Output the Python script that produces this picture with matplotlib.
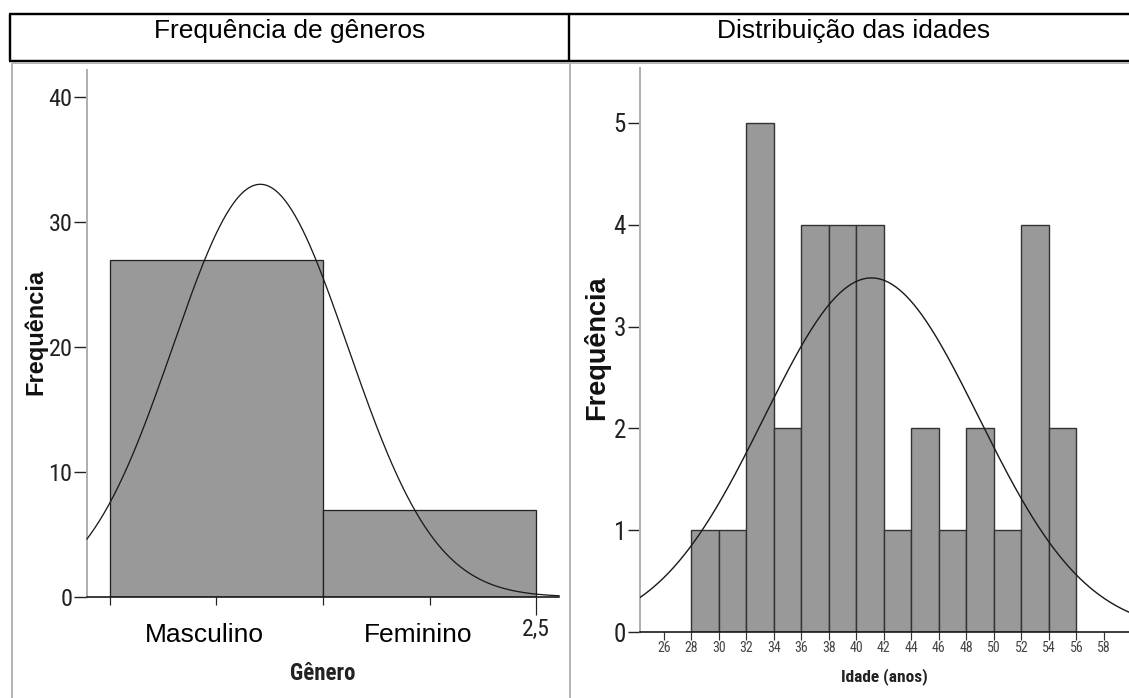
import numpy as np
import matplotlib
matplotlib.use("Agg")
import matplotlib.pyplot as plt
from matplotlib import font_manager
from matplotlib.font_manager import FontProperties
from matplotlib.lines import Line2D

# ---------------- dados ----------------
titulos = ["Frequência de gêneros", "Distribuição das idades"]

genero_codigos = [1, 2]
genero_rotulos = ["Masculino", "Feminino"]
genero_contagens = [27, 7]

idade_bordas = [28, 30, 32, 34, 36, 38, 40, 42, 44, 46, 48, 50, 52, 54, 56]
idade_contagens = [1, 1, 5, 2, 4, 4, 4, 1, 2, 1, 2, 1, 4, 2]
idade_media = 41.1
idade_dp = 7.8
idade_ticks = list(range(26, 60, 2))

genero_yticks = [0, 10, 20, 30, 40]
idade_yticks = [0, 1, 2, 3, 4, 5]

# ---------------- fontes ----------------
nomes = {f.name for f in font_manager.fontManager.ttflist}
SANS = "Liberation Sans" if "Liberation Sans" in nomes else "DejaVu Sans"


def _peso(w):
    if isinstance(w, str):
        return {"bold": 700, "normal": 400, "regular": 400}.get(w.lower(), 400)
    return int(w)


def fonte_estreita(negrito=False):
    """Procura uma fonte estreita/condensada instalada (caminho do arquivo)."""
    preferidas = ["liberation sans narrow", "arial narrow", "roboto condensed",
                  "open sans condensed", "noto sans", "dejavu sans", "lato",
                  "inter", "open sans", "roboto"]
    candidatas = []
    for f in font_manager.fontManager.ttflist:
        nome = f.name.lower()
        arq = f.fname.lower()
        estreita = ("narrow" in nome or "condensed" in nome or
                    "condensed" in arq or "narrow" in arq or
                    str(f.stretch).lower() in ("condensed", "semi-condensed",
                                              "extra-condensed", "narrow"))
        if not estreita or "semicondensed" in arq or "extracondensed" in arq \
                or "mono" in nome or "serif" in nome or "italic" in arq \
                or f.style != "normal":
            continue
        peso = _peso(f.weight)
        if negrito != (peso >= 600):
            continue
        if not negrito and peso < 350:
            continue
        ordem = len(preferidas)
        for i, p in enumerate(preferidas):
            if nome.startswith(p):
                ordem = i
                break
        candidatas.append((ordem, abs(peso - (700 if negrito else 400)), f.fname))
    if candidatas:
        candidatas.sort()
        return candidatas[0][2]
    return None


_reg = fonte_estreita(False)
_neg = fonte_estreita(True)


def fp_estreita(tam, negrito=False):
    caminho = _neg if negrito else _reg
    if caminho:
        return FontProperties(fname=caminho, size=tam)
    return FontProperties(family=SANS, size=tam,
                          weight="bold" if negrito else "normal")


W, H = 1129, 698
fig = plt.figure(figsize=(W / 100, H / 100), dpi=100)
fig.patch.set_facecolor("white")


def fx(px):
    return px / W


def fy(py):
    return 1 - py / H


def px2pt(px):
    return px * 72 / 100


# ---------------- cabeçalho em tabela ----------------
preto = dict(color="black", lw=px2pt(2.4), solid_capstyle="butt")
fig.add_artist(Line2D([fx(9), 1], [fy(14), fy(14)], **preto))
fig.add_artist(Line2D([fx(9), 1], [fy(61), fy(61)], **preto))
fig.add_artist(Line2D([fx(10), fx(10)], [fy(14), fy(61)], **preto))
fig.add_artist(Line2D([fx(569), fx(569)], [fy(14), fy(61)], **preto))

fig.text(fx(289.5), fy(38), titulos[0], ha="center", va="baseline",
         fontsize=19, family=SANS)
fig.text(fx(854), fy(38), titulos[1], ha="center", va="baseline",
         fontsize=19, family=SANS)

# molduras cinzentas dos painéis
cinza = dict(color="#b5b5b5", lw=px2pt(2), solid_capstyle="butt")
fig.add_artist(Line2D([fx(12), fx(12)], [fy(63), 0], **cinza))
fig.add_artist(Line2D([fx(569.5), fx(569.5)], [fy(63), 0], **cinza))
fig.add_artist(Line2D([fx(12), 1], [fy(63), fy(63)], **cinza))

COR_BARRA = "#999999"


def estilo_eixos(ax):
    for s in ("top", "right"):
        ax.spines[s].set_visible(False)
    ax.spines["left"].set_color("#b0b0b0")
    ax.spines["left"].set_linewidth(px2pt(2))
    ax.spines["bottom"].set_color("#111111")
    ax.spines["bottom"].set_linewidth(px2pt(1.6))
    ax.set_facecolor("none")


def aplicar_fonte(rotulos, fp):
    for r in rotulos:
        r.set_fontproperties(fp)


# ---------------- painel 1: gênero ----------------
ax1 = fig.add_axes([fx(87), fy(597), fx(559) - fx(87), (597 - 70) / H])
x1min, x1max = 0.393, 2.607
ax1.set_xlim(x1min, x1max)
ax1.set_ylim(0, 42.2)
estilo_eixos(ax1)

ax1.bar(genero_codigos, genero_contagens, width=1.0, color=COR_BARRA,
        edgecolor="#222222", linewidth=px2pt(1.3), zorder=2)

cod = np.array(genero_codigos, dtype=float)
cnt = np.array(genero_contagens, dtype=float)
n1 = cnt.sum()
m1 = (cod * cnt).sum() / n1
s1 = np.sqrt((cnt * (cod - m1) ** 2).sum() / (n1 - 1))
xs1 = np.linspace(x1min, x1max, 400)
ys1 = n1 * 1.0 / (s1 * np.sqrt(2 * np.pi)) * np.exp(-0.5 * ((xs1 - m1) / s1) ** 2)
ax1.plot(xs1, ys1, color="#1a1a1a", lw=px2pt(1.3), zorder=3, clip_on=False)

ax1.set_yticks(genero_yticks)
ax1.set_yticklabels([str(v) for v in genero_yticks])
ax1.tick_params(axis="y", direction="out", length=px2pt(13), width=px2pt(1.4),
                color="#222222", pad=1, labelcolor="#222222")
aplicar_fonte(ax1.get_yticklabels(), fp_estreita(17.5))
ax1.set_xticks([2.5])
ax1.set_xticklabels(["2,5"])
ax1.set_xticks([0.5, 1.0, 1.5, 2.0], minor=True)
ax1.tick_params(axis="x", which="major", direction="out", length=px2pt(18),
                width=px2pt(1.2), color="#222222", pad=2, labelcolor="#222222")
ax1.tick_params(axis="x", which="minor", direction="out", length=px2pt(8),
                width=px2pt(1.2), color="#222222")
aplicar_fonte(ax1.get_xticklabels(), fp_estreita(17))

for c, rot in zip(genero_codigos, genero_rotulos):
    ax1.text(c - 0.055, -0.0854, rot, transform=ax1.get_xaxis_transform(),
             ha="center", va="baseline", fontsize=19, family=SANS)

fig.text(fx(323), fy(673), "Gênero", ha="center", va="center",
         fontproperties=fp_estreita(16.5, True), color="#222222")
fig.text(fx(36), fy(332), "Frequência", ha="center", va="center",
         rotation=90, fontsize=17, fontweight="bold", family=SANS,
         color="#111111")

# ---------------- painel 2: idades ----------------
ax2 = fig.add_axes([fx(639.5), fy(632), 1 - fx(639.5), (632 - 68) / H])
x2min, x2max = 24.23, 59.83
ax2.set_xlim(x2min, x2max)
ax2.set_ylim(0, 5.54)
estilo_eixos(ax2)

larg = idade_bordas[1] - idade_bordas[0]
ax2.bar(idade_bordas[:-1], idade_contagens, width=larg, align="edge",
        color=COR_BARRA, edgecolor="#333333", linewidth=px2pt(1.4), zorder=2)

n2 = sum(idade_contagens)
xs2 = np.linspace(x2min, x2max, 400)
ys2 = n2 * larg / (idade_dp * np.sqrt(2 * np.pi)) * \
    np.exp(-0.5 * ((xs2 - idade_media) / idade_dp) ** 2)
ax2.plot(xs2, ys2, color="#1a1a1a", lw=px2pt(1.4), zorder=3)

ax2.set_yticks(idade_yticks)
ax2.set_yticklabels([str(v) for v in idade_yticks])
ax2.tick_params(axis="y", direction="out", length=px2pt(12), width=px2pt(1.4),
                color="#222222", pad=1, labelcolor="#222222")
aplicar_fonte(ax2.get_yticklabels(), fp_estreita(18))
ax2.set_xticks(idade_ticks)
ax2.set_xticklabels([str(v) for v in idade_ticks])
ax2.tick_params(axis="x", direction="out", length=px2pt(8), width=px2pt(1.2),
                color="#333333", pad=1, labelcolor="#444444")
aplicar_fonte(ax2.get_xticklabels(), fp_estreita(10))

fig.text(fx(884.5), fy(677), "Idade (anos)", ha="center", va="center",
         fontproperties=fp_estreita(12.5, True), color="#222222")
fig.text(fx(597), fy(348), "Frequência", ha="center", va="center",
         rotation=90, fontsize=19.5, fontweight="bold", family=SANS,
         color="#111111")

fig.savefig("out.png", dpi=100, facecolor="white")
